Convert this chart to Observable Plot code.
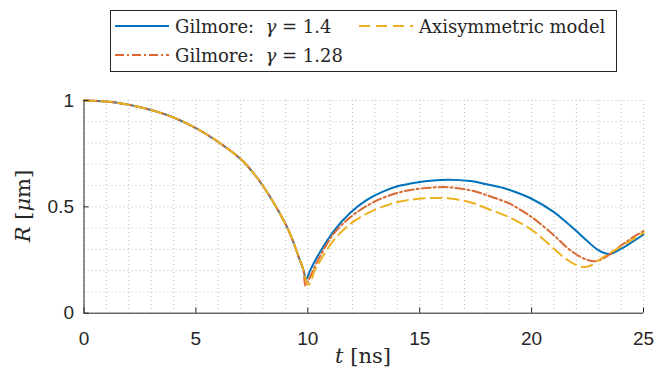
<!DOCTYPE html>
<html><head><meta charset="utf-8">
<script src="https://cdn.jsdelivr.net/npm/d3@7"></script>
<script src="https://cdn.jsdelivr.net/npm/@observablehq/plot@0.6"></script>
<style>
body{margin:0;background:#fff;}
#wrap{position:relative;width:657px;height:376px;overflow:hidden;}
.serif{font-family:'DejaVu Serif',serif;color:#262626;position:absolute;white-space:nowrap;}
#legend{position:absolute;left:110px;top:10px;width:507px;height:62px;border:1px solid #262626;background:#fff;box-sizing:border-box;}
.item{position:absolute;display:flex;align-items:center;font-family:'DejaVu Serif',serif;font-size:18px;color:#262626;white-space:nowrap;}
.item svg{margin-right:6px;}
</style></head><body>
<div id="wrap"></div>
<script>
// shared collapse phase (t in ns, R in um)
const tCollapse = [0, 1, 2, 3, 4, 5, 6, 7, 7.5, 8, 8.5, 9, 9.3, 9.6, 9.8];
const rCollapse = [1, 0.995, 0.98, 0.955, 0.92, 0.87, 0.805, 0.725, 0.668, 0.598, 0.515, 0.42, 0.35, 0.262, 0.205];

// rebound phases
const tGil14 = [9.93, 10.1, 10.41, 11.15, 11.9, 12.64, 13.38, 14.13, 14.87, 15.6, 16.3, 17.25, 18, 18.74, 19, 20, 21, 21.5, 22, 22.5, 23, 23.45, 23.95, 24.5, 25];
const rGil14 = [0.16, 0.2, 0.263, 0.385, 0.472, 0.533, 0.573, 0.6, 0.615, 0.624, 0.627, 0.621, 0.606, 0.589, 0.58, 0.538, 0.475, 0.432, 0.386, 0.338, 0.295, 0.278, 0.3, 0.335, 0.37];

const tGil128 = [9.9, 10.1, 10.41, 11.15, 11.9, 12.64, 13.38, 14.13, 14.87, 15.6, 16.3, 17.25, 18, 18.74, 19, 20, 21, 21.57, 22, 22.5, 22.9, 23.5, 24, 24.5, 25];
const rGil128 = [0.13, 0.17, 0.24, 0.373, 0.451, 0.505, 0.543, 0.569, 0.584, 0.591, 0.592, 0.578, 0.555, 0.527, 0.516, 0.452, 0.366, 0.31, 0.276, 0.25, 0.245, 0.277, 0.318, 0.355, 0.386];

const tAxi = [10.0, 10.1, 10.3, 10.56, 11.15, 11.9, 12.64, 13.38, 14.13, 14.87, 15.62, 16.36, 17.25, 18, 19, 20, 20.5, 21, 21.5, 22, 22.3, 22.6, 23, 23.4, 24, 24.5, 25];
const rAxi = [0.135, 0.14, 0.2, 0.248, 0.342, 0.42, 0.468, 0.502, 0.525, 0.537, 0.542, 0.539, 0.522, 0.492, 0.451, 0.392, 0.35, 0.303, 0.258, 0.226, 0.217, 0.222, 0.25, 0.277, 0.313, 0.346, 0.378];

const seriesNames = ["Gilmore: γ = 1.4", "Gilmore: γ = 1.28", "Axisymmetric model"];
const colors = ["#0072BD", "#DA6A34", "#EDB120"];
const dashes = [null, "9,3,2,3", "11,6"];

const xTicks = [0, 5, 10, 15, 20, 25];
const yTicks = [0, 0.5, 1];
const xGrid = d3.range(0, 26, 1);
const yGrid = d3.range(0, 11, 1).map(d => d / 10);

function build(tRe, rRe, name) {
  const t = tCollapse.concat(tRe), r = rCollapse.concat(rRe);
  return t.map((v, i) => ({t: v, R: r[i], s: name}));
}
const data = [
  build(tGil14, rGil14, seriesNames[0]),
  build(tGil128, rGil128, seriesNames[1]),
  build(tAxi, rAxi, seriesNames[2])
];

const axisColor = "#262626";
const plot = Plot.plot({
  width: 657, height: 376,
  marginLeft: 83.5, marginRight: 14, marginTop: 100, marginBottom: 63.3,
  x: {domain: [0, 25]},
  y: {domain: [0, 1]},
  style: {fontFamily: "'Liberation Sans', Arial, sans-serif", fontSize: "19px", color: axisColor, background: "#fff"},
  marks: [
    Plot.ruleX(xGrid, {x: d => d, stroke: "#bdbdbd", strokeDasharray: "1,3", strokeWidth: 1}),
    Plot.ruleY(yGrid, {y: d => d, stroke: "#bdbdbd", strokeDasharray: "1,3", strokeWidth: 1}),
    ...data.map((d, i) => Plot.line(d, {x: "t", y: "R", stroke: colors[i], strokeWidth: 2, strokeDasharray: dashes[i], curve: "catmull-rom"})),
    Plot.ruleY([0], {stroke: axisColor, strokeWidth: 1}),
    Plot.ruleX([0], {stroke: axisColor, strokeWidth: 1}),
    Plot.ruleX(xTicks, {x: d => d, y1: 0, y2: 0.025, stroke: axisColor}),
    Plot.ruleY(yTicks, {y: d => d, x1: 0, x2: 0.23, stroke: axisColor}),
    Plot.axisX({ticks: xTicks, tickSize: 0, tickPadding: 18, tickFormat: d => String(d), label: null}),
    Plot.axisY({ticks: yTicks, tickSize: 0, tickPadding: 10, tickFormat: d => String(d), label: null})
  ]
});
const wrap = document.getElementById("wrap");
wrap.appendChild(plot);

// axis titles
const xt = document.createElement("div");
xt.className = "serif";
xt.style.cssText = "left:363px;top:356px;font-size:21px;transform:translate(-50%,-50%);";
xt.innerHTML = "<i>t</i>&nbsp;[ns]";
wrap.appendChild(xt);
const yt = document.createElement("div");
yt.className = "serif";
yt.style.cssText = "left:23px;top:206px;font-size:21px;transform:translate(-50%,-50%) rotate(-90deg);";
yt.innerHTML = "<i>R</i>&nbsp;[<i>μ</i>m]";
wrap.appendChild(yt);

// legend
const leg = document.createElement("div");
leg.id = "legend";
wrap.appendChild(leg);
const pos = [[4, 15], [4, 44], [248, 15]];
const labelsHTML = ["Gilmore:&nbsp;&nbsp;<i>γ</i> = 1.4", "Gilmore:&nbsp;&nbsp;<i>γ</i> = 1.28", "Axisymmetric model"];
seriesNames.forEach((n, i) => {
  const it = document.createElement("div");
  it.className = "item";
  it.style.left = pos[i][0] + "px";
  it.style.top = (pos[i][1] - 13) + "px";
  it.style.height = "26px";
  it.title = n;
  it.innerHTML = `<svg width="54" height="10"><line x1="0" x2="54" y1="5" y2="5" stroke="${colors[i]}" stroke-width="2" ${dashes[i] ? `stroke-dasharray="${dashes[i]}"` : ""}/></svg><span>${labelsHTML[i]}</span>`;
  leg.appendChild(it);
});
</script>
</body></html>
